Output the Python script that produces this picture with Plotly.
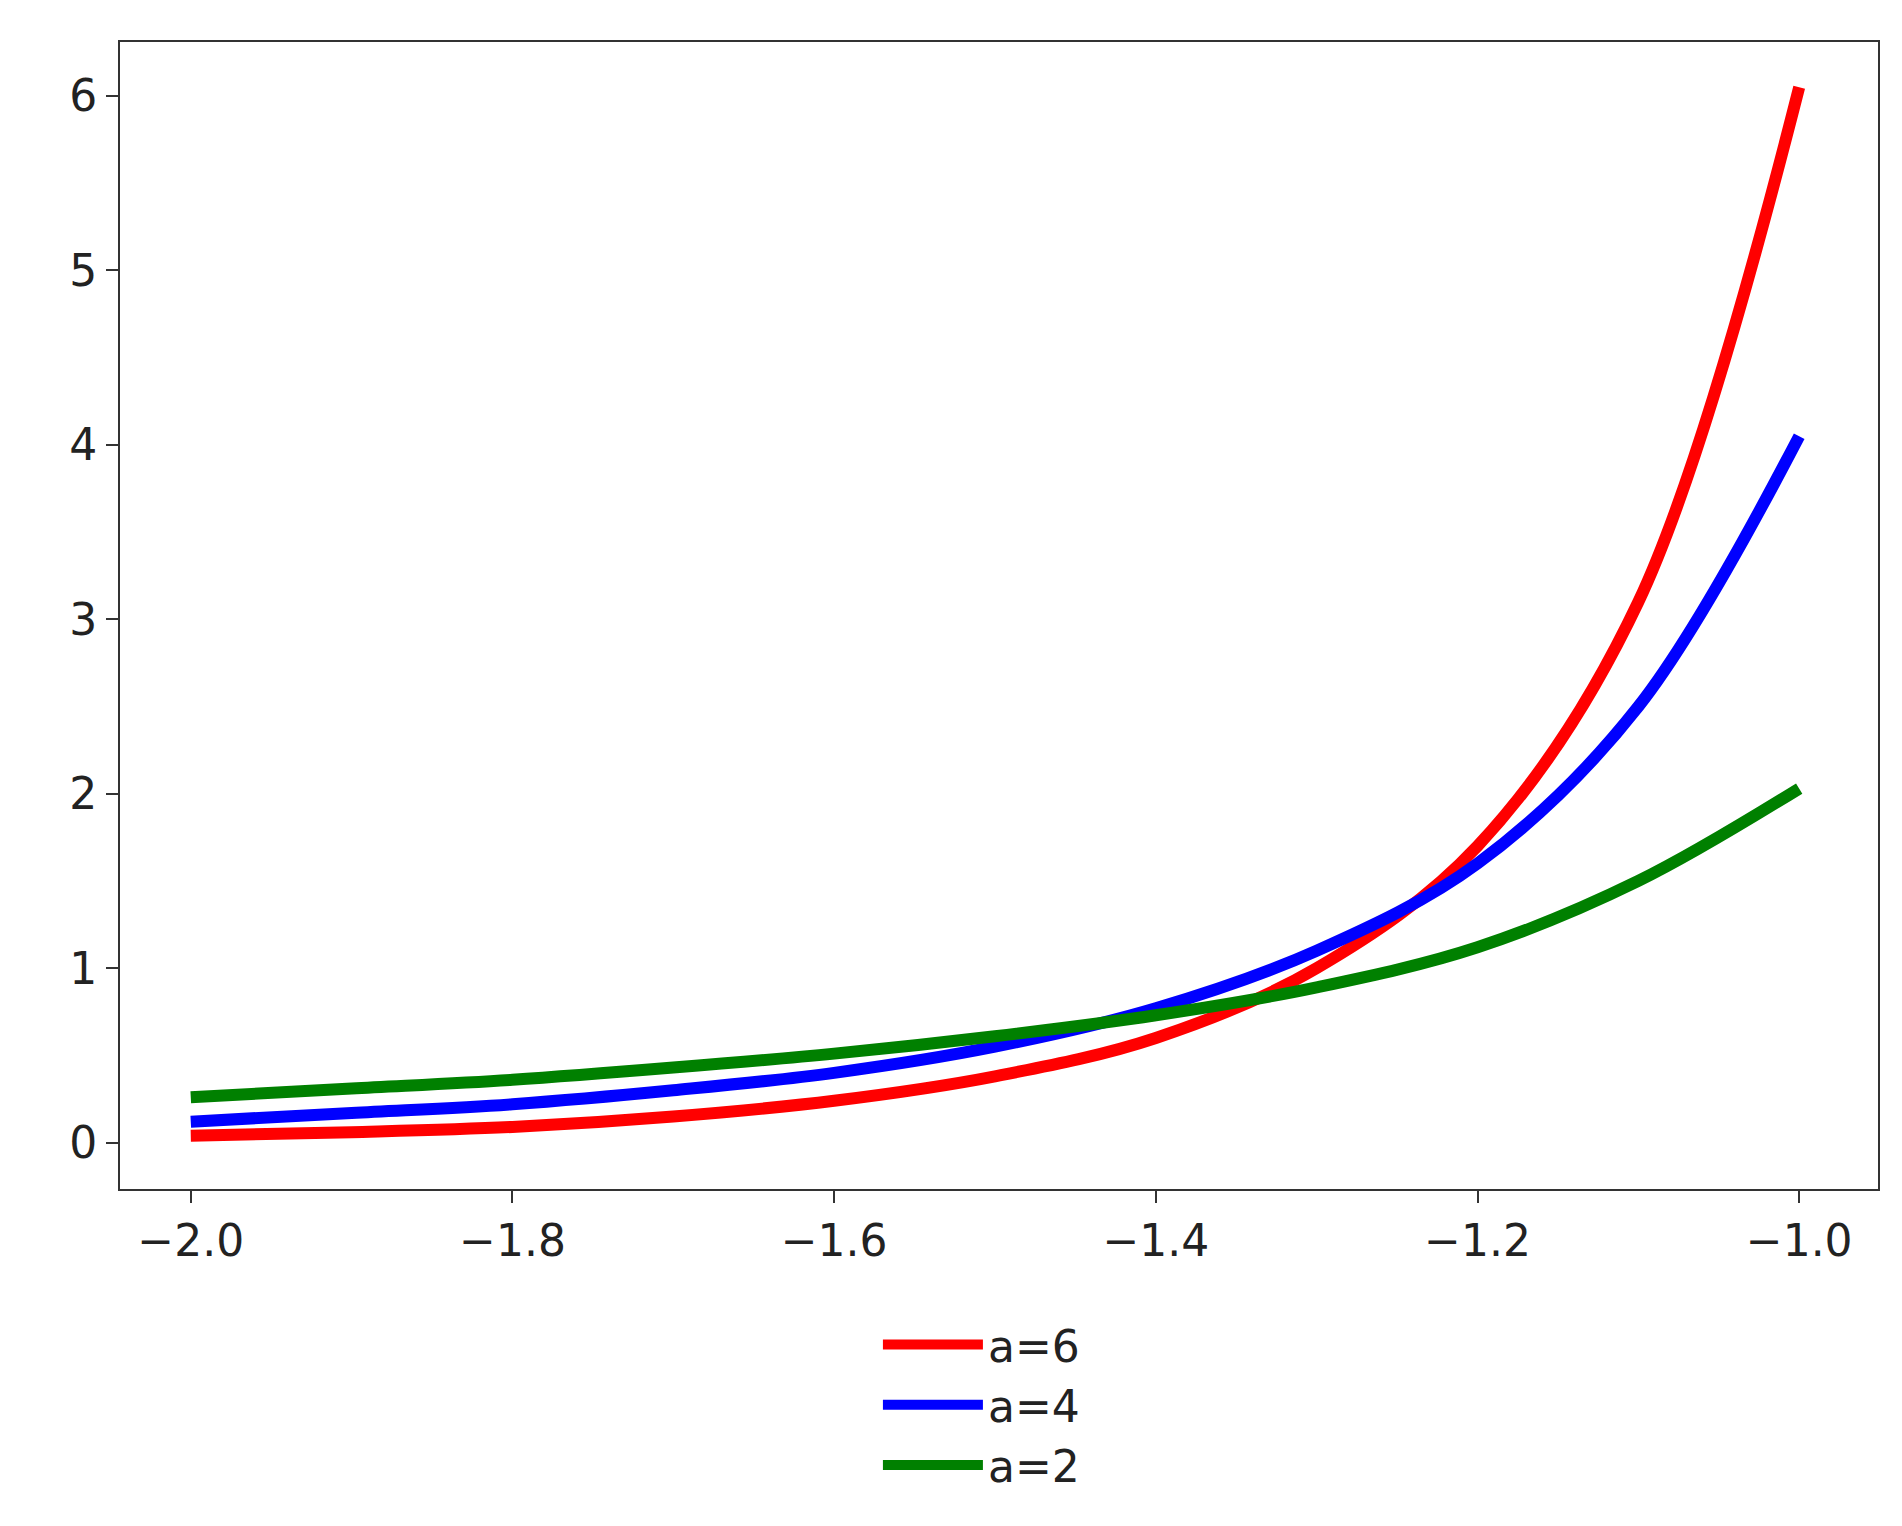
import plotly.graph_objects as go

# values
x_vals = [-2.0, -1.9, -1.8, -1.7, -1.6, -1.5, -1.4, -1.3, -1.2, -1.1, -1.0]
red_a6 = [0.04, 0.06, 0.09, 0.15, 0.24, 0.38, 0.60, 1.00, 1.70, 3.10, 6.05]
blue_a4 = [0.12, 0.17, 0.22, 0.30, 0.40, 0.55, 0.77, 1.10, 1.60, 2.50, 4.05]
green_a2 = [0.26, 0.31, 0.36, 0.43, 0.51, 0.61, 0.73, 0.89, 1.12, 1.50, 2.03]

x_ticks = [-2.0, -1.8, -1.6, -1.4, -1.2, -1.0]
x_tick_text = ['\u22122.0', '\u22121.8', '\u22121.6', '\u22121.4', '\u22121.2', '\u22121.0']

fig = go.Figure()
for name, ys, col in [('a=6', red_a6, 'red'), ('a=4', blue_a4, 'blue'), ('a=2', green_a2, 'green')]:
    fig.add_trace(go.Scatter(x=x_vals, y=ys, mode='lines', name=name,
                             line=dict(color=col, width=12, shape='spline')))

axis_style = dict(showline=True, linecolor='#333', linewidth=2, mirror=True,
                  ticks='outside', ticklen=12, tickwidth=2, tickcolor='#333',
                  showgrid=False, zeroline=False,
                  tickfont=dict(family='DejaVu Sans', size=44, color='#222'))

fig.update_layout(
    width=1902, height=1526,
    paper_bgcolor='white', plot_bgcolor='white',
    margin=dict(l=112, r=32, t=34, b=345),
    xaxis=dict(range=[-2.044, -0.951], tickvals=x_ticks, ticktext=x_tick_text, **axis_style),
    yaxis=dict(range=[-0.266, 6.31], tickvals=[0, 1, 2, 3, 4, 5, 6], **axis_style),
    showlegend=True,
    legend=dict(x=0.49, y=-0.105, xanchor='center', yanchor='top',
                font=dict(family='DejaVu Sans', size=44, color='#222'),
                itemwidth=100, tracegroupgap=0),
)

fig.write_html("out.html")
